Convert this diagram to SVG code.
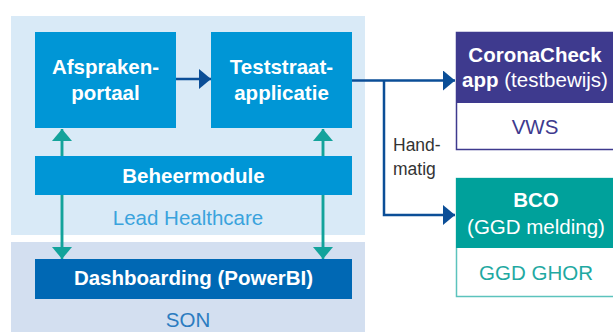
<svg xmlns="http://www.w3.org/2000/svg" width="613" height="332" viewBox="0 0 613 332">
<defs>
<style>
.b{font-family:"Liberation Sans",Arial,sans-serif;font-weight:bold;font-size:20.5px;fill:#fff;text-anchor:middle}
.r{font-family:"Liberation Sans",Arial,sans-serif;font-size:20.5px;text-anchor:middle}
.box{fill:#0096d6}
.dk{stroke:#0b4e97;stroke-width:2.5;fill:none}
.tl{stroke:#13a39b;stroke-width:2.5;fill:none}
.h{font-family:"Liberation Sans",Arial,sans-serif;font-size:17.5px;fill:#333}
</style>
<marker id="ad" markerUnits="userSpaceOnUse" markerWidth="14" markerHeight="20" refX="12" refY="10" orient="auto"><path d="M0,0 L12,10 L0,20 Z" fill="#0b4e97"/></marker>
<marker id="at" markerUnits="userSpaceOnUse" markerWidth="14" markerHeight="22" refX="12" refY="11" orient="auto"><path d="M0,1 L12,11 L0,21 Z" fill="#13a39b"/></marker>
</defs>
<rect x="11" y="16" width="354" height="219" fill="#d9eaf7"/>
<rect x="11" y="242" width="354" height="90" fill="#d3dff0"/>
<text class="r" x="188" y="225" fill="#3aa3dd">Lead Healthcare</text>
<text class="r" x="188" y="327" fill="#2c7cc0">SON</text>
<g id="connectors">
<line class="dk" x1="176" y1="79" x2="211" y2="79" marker-end="url(#ad)"/>
<polyline class="dk" points="352,80.5 455,80.5" marker-end="url(#ad)"/>
<polyline class="dk" points="384,80.5 384,215 455,215" marker-end="url(#ad)"/>
<line class="tl" x1="62" y1="247" x2="62" y2="129" marker-end="url(#at)"/>
<line class="tl" x1="62" y1="141" x2="62" y2="259" marker-end="url(#at)"/>
<line class="tl" x1="323" y1="247" x2="323" y2="129" marker-end="url(#at)"/>
<line class="tl" x1="323" y1="141" x2="323" y2="259" marker-end="url(#at)"/>
</g>
<text class="h" x="393" y="151">Hand-</text>
<text class="h" x="393" y="175">matig</text>
<g id="afspraken">
<rect class="box" x="35" y="32" width="141" height="96"/>
<text class="b" x="105.5" y="74">Afspraken-</text>
<text class="b" x="105.5" y="100">portaal</text>
</g>
<g id="teststraat">
<rect class="box" x="211" y="32" width="141" height="96"/>
<text class="b" x="281.5" y="74">Teststraat-</text>
<text class="b" x="281.5" y="100">applicatie</text>
</g>
<g id="beheermodule">
<rect class="box" x="35" y="156" width="317" height="39"/>
<text class="b" x="193.5" y="183">Beheermodule</text>
</g>
<g id="dashboarding">
<rect x="35" y="259" width="317" height="40" fill="#0068b4"/>
<text class="b" x="193.5" y="285">Dashboarding (PowerBI)</text>
</g>
<g id="coronacheck">
<rect x="456.5" y="32.5" width="160" height="117" fill="#fff" stroke="#3e3a8e" stroke-width="1.5"/>
<rect x="456" y="32" width="160" height="71" fill="#3e3a8e"/>
<text class="b" x="535" y="62">CoronaCheck</text>
<text class="b" x="535" y="87"><tspan>app</tspan><tspan font-weight="normal"> (testbewijs)</tspan></text>
<text class="r" x="535" y="134" fill="#3e3a8e">VWS</text>
</g>
<g id="bco">
<rect x="456.5" y="178.5" width="160" height="118" fill="#fff" stroke="#5cc3bd" stroke-width="1.5"/>
<rect x="456" y="178" width="160" height="70" fill="#00a19b"/>
<text class="b" x="536" y="207">BCO</text>
<text class="r" x="536" y="234" fill="#fff">(GGD melding)</text>
<text class="r" x="536" y="280" fill="#1fa9a2">GGD GHOR</text>
</g>
</svg>
